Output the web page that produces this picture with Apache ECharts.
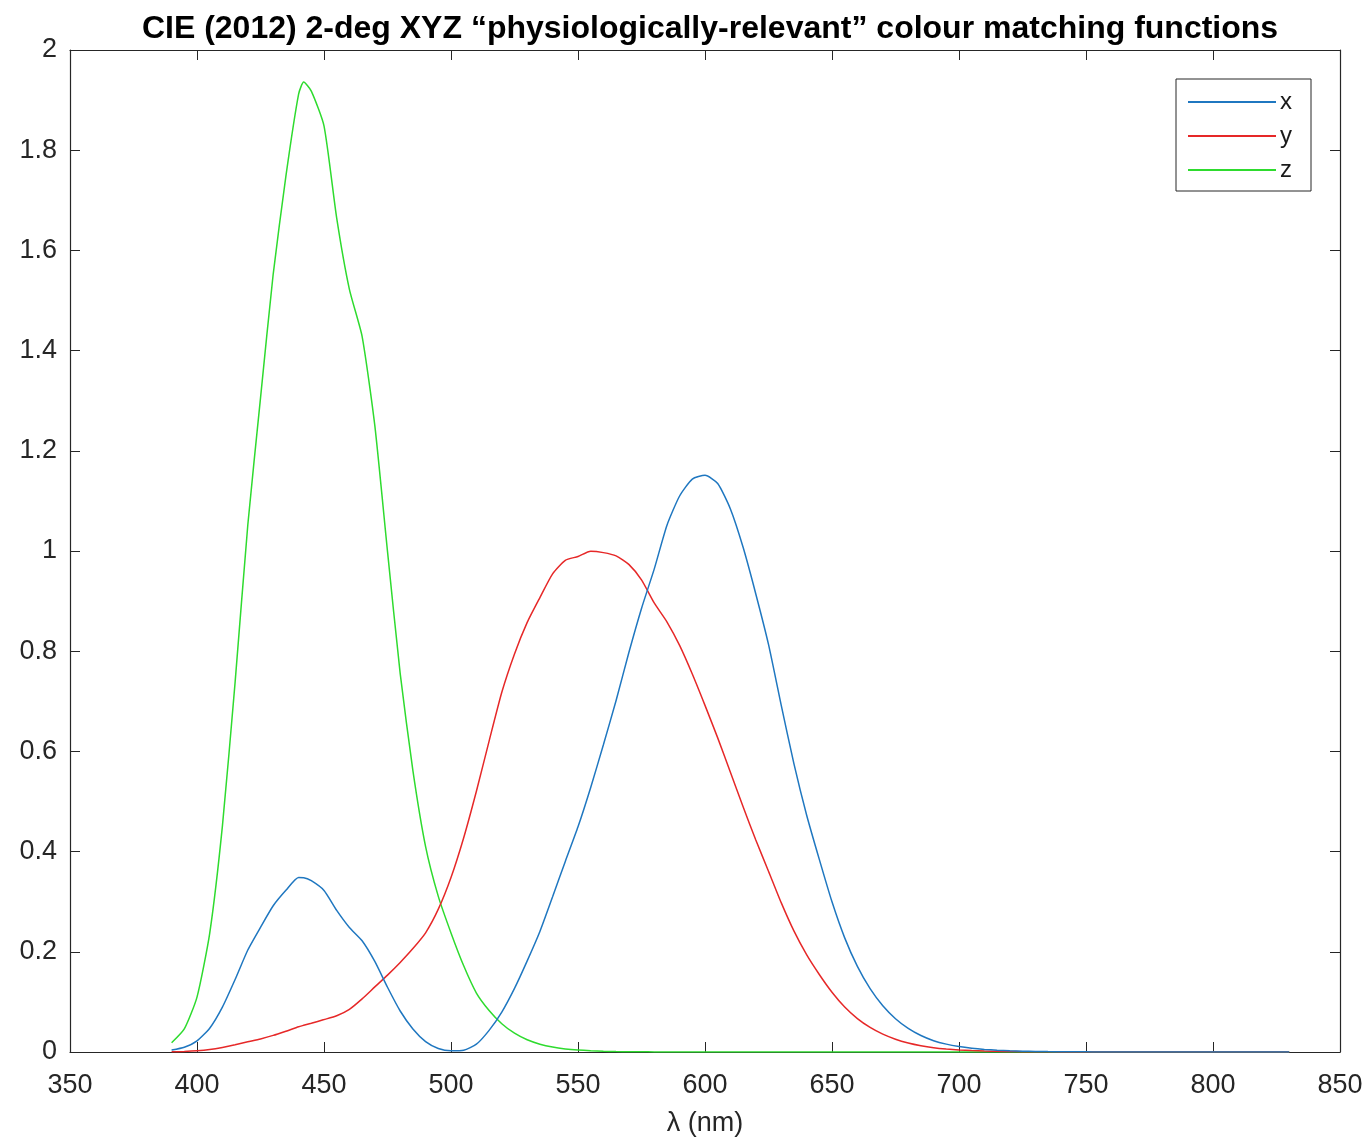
<!DOCTYPE html>
<html>
<head>
<meta charset="utf-8">
<script src="https://cdn.jsdelivr.net/npm/echarts@6/dist/echarts.min.js"></script>
<style>html,body{margin:0;padding:0;background:#fff}#c{width:1367px;height:1141px}</style>
</head>
<body>
<div id="c"></div>
<script>
const titleText = 'CIE (2012) 2-deg XYZ \u201cphysiologically-relevant\u201d colour matching functions';
const xAxisName = '\u03bb (nm)';
const seriesNames = ['x', 'y', 'z'];
const wavelengths = [390,395,400,405,410,415,420,425,430,435,440,442,445,450,455,460,465,470,475,480,485,490,495,500,505,510,515,520,525,530,535,540,545,550,555,560,565,570,575,580,585,590,595,600,605,610,615,620,625,630,635,640,645,650,655,660,665,670,675,680,685,690,695,700,705,710,715,720,725,730,735,740,745,750,755,760,765,770,775,780,785,790,795,800,805,810,815,820,825,830];
const xBar = [0.00377,0.00938,0.02214,0.04743,0.08954,0.14462,0.20357,0.24885,0.29182,0.32271,0.34826,0.3480,0.34185,0.32246,0.28266,0.24853,0.22198,0.18069,0.12919,0.08183,0.04601,0.02084,0.00710,0.00246,0.00365,0.01557,0.04315,0.07963,0.12685,0.18180,0.24050,0.30981,0.38042,0.44942,0.52802,0.61338,0.70168,0.79678,0.88534,0.96384,1.05101,1.10977,1.14362,1.15103,1.13476,1.08393,1.00734,0.91429,0.81356,0.69247,0.57554,0.47312,0.38450,0.29974,0.22778,0.17079,0.12638,0.09225,0.06640,0.04711,0.03292,0.02262,0.01575,0.01097,0.00761,0.00521,0.00357,0.00246,0.00170,0.00119,0.00083,0.00058,0.00041,0.00029,0.00020,0.00014,0.00010,0.00007,0.00005,0.00004,0.00003,0.00002,0.00001,0.00001,0.00001,0.00001,0,0,0,0];
const yBar = [0.00041,0.00106,0.00245,0.00497,0.00908,0.01429,0.02027,0.02612,0.03319,0.04158,0.05034,0.0532,0.05743,0.06472,0.07238,0.08515,0.10601,0.12990,0.15351,0.17880,0.20648,0.23792,0.28507,0.34835,0.42776,0.52050,0.62063,0.71809,0.79464,0.85758,0.90713,0.95447,0.98141,0.98902,0.99946,0.99677,0.99025,0.97326,0.94246,0.89636,0.85872,0.81159,0.75448,0.69186,0.62701,0.55837,0.48960,0.42299,0.36092,0.29809,0.24169,0.19431,0.15474,0.11931,0.08980,0.06671,0.04900,0.03560,0.02554,0.01808,0.01262,0.00866,0.00603,0.00420,0.00291,0.00200,0.00137,0.00094,0.00065,0.00046,0.00032,0.00022,0.00016,0.00011,0.00008,0.00006,0.00004,0.00003,0.00002,0.00001,0.00001,0.00001,0.00001,0,0,0,0,0,0,0];
const zBar = [0.01847,0.04610,0.10961,0.23692,0.45084,0.73788,1.05182,1.30501,1.55283,1.74828,1.912,1.936,1.918,1.84855,1.66444,1.52216,1.42844,1.25061,0.99918,0.75524,0.56173,0.40993,0.31059,0.23768,0.17200,0.11768,0.08284,0.05650,0.03752,0.02438,0.01566,0.00985,0.00613,0.00379,0.00233,0.00143,0.00088,0.00055,0.00034,0.00021,0.00013,0.00008,0.00005,0.00004,0.00002,0.00002,0.00001,0,0,0,0,0,0,0,0,0,0,0,0,0,0,0,0,0,0,0,0,0,0,0,0,0,0,0,0,0,0,0,0,0,0,0,0,0,0,0,0,0,0,0];
const xTicks = {min: 350, max: 850, interval: 50};
const yTicks = {min: 0, max: 2, interval: 0.2};
const colors = ['#1f77c0', '#E62828', '#2EDB2E'];

const pair = (ys) => wavelengths.map((w, i) => [w, ys[i]]);
const font = '"Liberation Sans", Arial, Helvetica, sans-serif';
const axisCol = '#262626';
const chart = echarts.init(document.getElementById('c'), null, {renderer: 'canvas'});
const baseX = {
  type: 'value', min: xTicks.min, max: xTicks.max, interval: xTicks.interval,
  splitLine: {show: false},
  axisLine: {show: true, onZero: false, lineStyle: {color: axisCol, width: 1.2}},
  axisTick: {show: true, inside: true, length: 10, lineStyle: {color: axisCol}}
};
const baseY = {
  type: 'value', min: yTicks.min, max: yTicks.max, interval: yTicks.interval,
  splitLine: {show: false},
  axisLine: {show: true, onZero: false, lineStyle: {color: axisCol, width: 1.2}},
  axisTick: {show: true, inside: true, length: 10, lineStyle: {color: axisCol}}
};
chart.setOption({
  animation: false,
  backgroundColor: '#fff',
  title: {
    text: titleText, left: 705, top: 8, textAlign: 'center',
    textStyle: {fontFamily: font, fontWeight: 'bold', fontSize: 32, color: '#000'}
  },
  legend: {
    data: seriesNames, orient: 'vertical', left: 1176, top: 79,
    align: 'left', icon: 'path://M0,0L100,0L100,2L0,2Z',
    itemWidth: 88, itemHeight: 2, itemGap: 10,
    padding: [11, 19, 9, 12],
    borderColor: axisCol, borderWidth: 1, backgroundColor: '#fff',
    textStyle: {fontFamily: font, fontSize: 24, color: '#1a1a1a', lineHeight: 24, padding: [0, 0, 0, -1]}
  },
  grid: {left: 70, right: 27, top: 50, bottom: 89, containLabel: false, outerBoundsMode: 'none'},
  xAxis: [
    Object.assign({}, baseX, {
      position: 'bottom', name: xAxisName, nameLocation: 'middle', nameGap: 58,
      nameTextStyle: {fontFamily: font, fontSize: 27, color: axisCol},
      axisLabel: {fontFamily: font, fontSize: 27, color: axisCol, margin: 20}
    }),
    Object.assign({}, baseX, {position: 'top', axisLabel: {show: false}})
  ],
  yAxis: [
    Object.assign({}, baseY, {
      position: 'left',
      axisLabel: {fontFamily: font, fontSize: 27, color: axisCol, margin: 13}
    }),
    Object.assign({}, baseY, {position: 'right', axisLabel: {show: false}})
  ],
  series: seriesNames.map((n, i) => ({
    name: n, type: 'line', data: pair([xBar, yBar, zBar][i]),
    symbol: 'none', showSymbol: false, smooth: 0.2,
    lineStyle: {color: colors[i], width: 1.5}, itemStyle: {color: colors[i]},
    xAxisIndex: 0, yAxisIndex: 0, z: 3 - i
  }))
});
</script>
</body>
</html>
